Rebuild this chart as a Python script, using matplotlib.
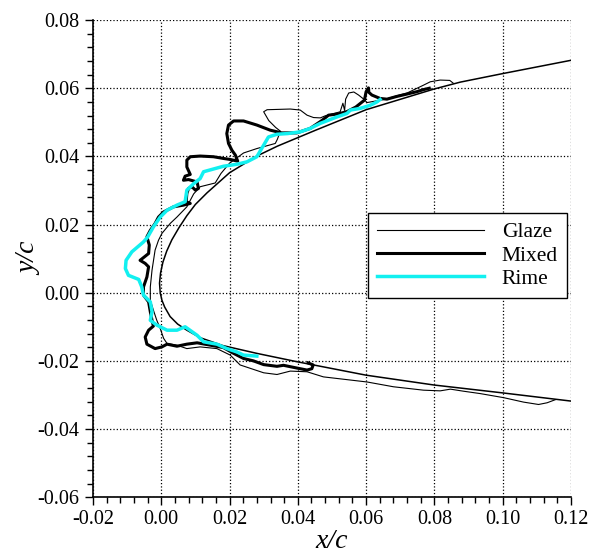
import numpy as np
import matplotlib
matplotlib.use("Agg")
import matplotlib.pyplot as plt
from matplotlib.ticker import MultipleLocator, FormatStrFormatter

plt.rcParams['font.family'] = ['Liberation Serif', 'DejaVu Serif']
plt.rcParams['axes.unicode_minus'] = False

# clean airfoil (upper TE -> nose -> lower TE)
clean_x = [0.120, 0.100, 0.0876, 0.080, 0.060, 0.045, 0.034, 0.028, 0.020, 0.0134, 0.0100,
           0.0075, 0.0052, 0.0031, 0.0016, 0.0005, -0.0002, -0.0005, -0.0003, 0.0002, 0.0010,
           0.0026, 0.0048, 0.0075, 0.0114, 0.018, 0.028, 0.040, 0.060, 0.080, 0.100, 0.120]
clean_y = [0.0682, 0.0643, 0.0618, 0.0598, 0.0537, 0.0476, 0.0430, 0.0401, 0.0352, 0.0293, 0.0259,
           0.0226, 0.0191, 0.0155, 0.0122, 0.0090, 0.0058, 0.0028, 0.0000, -0.0022, -0.0042,
           -0.0070, -0.0092, -0.0110, -0.0132, -0.0155, -0.0178, -0.0203, -0.0242, -0.0271, -0.0294,
           -0.0318]

# glaze ice
glaze_x = [0.0855, 0.0845, 0.0817, 0.0788, 0.0768, 0.0720, 0.0690, 0.0661, 0.0625, 0.0603,
           0.0593, 0.0578, 0.0564, 0.0549, 0.0540, 0.0537, 0.0532, 0.0524, 0.0500, 0.0480,
           0.0466, 0.0446, 0.0427, 0.0407, 0.0378, 0.0310, 0.0300, 0.0315, 0.0335, 0.0349,
           0.0340, 0.0334, 0.0280, 0.0241, 0.0226, 0.0200, 0.0175, 0.0158, 0.0114, 0.0095,
           0.0075, 0.0046, 0.0026, 0.0002, -0.0008, -0.0018, -0.0027, -0.0032, -0.0032, -0.0023,
           -0.0013, -0.0003, 0.0007, 0.0017, 0.0046, 0.0075, 0.0114, 0.0163, 0.0202, 0.0231,
           0.0261, 0.0300, 0.0339, 0.0378, 0.0427, 0.0475, 0.0603, 0.0680, 0.0768, 0.0817,
           0.0847, 0.0885, 0.0934, 0.1003, 0.1061, 0.1105, 0.1130, 0.1154]
glaze_y = [0.0615, 0.0623, 0.0624, 0.0619, 0.0609, 0.0586, 0.0578, 0.0569, 0.0562, 0.0558,
           0.0568, 0.0580, 0.0589, 0.0586, 0.0568, 0.0535, 0.0556, 0.0531, 0.0524, 0.0519,
           0.0513, 0.0514, 0.0521, 0.0536, 0.0539, 0.0537, 0.0531, 0.0505, 0.0485, 0.0474,
           0.0450, 0.0438, 0.0423, 0.0410, 0.0399, 0.0380, 0.0350, 0.0322, 0.0311, 0.0290,
           0.0252, 0.0222, 0.0203, 0.0174, 0.0154, 0.0125, 0.0066, 0.0017, -0.0022, -0.0051,
           -0.0081, -0.0105, -0.0134, -0.0149, -0.0154, -0.0164, -0.0159, -0.0164, -0.0183, -0.0212,
           -0.0222, -0.0235, -0.0240, -0.0230, -0.0232, -0.0247, -0.0262, -0.0276, -0.0286, -0.0288,
           -0.0283, -0.0289, -0.0296, -0.0308, -0.0321, -0.0328, -0.0323, -0.0314]

# mixed ice
mixed_x = [0.0785, 0.0768, 0.0749, 0.0720, 0.0690, 0.0661, 0.0641, 0.0617, 0.0608, 0.0607,
           0.0600, 0.0595, 0.0570, 0.0545, 0.0520, 0.0505, 0.0490, 0.0470, 0.0436, 0.0397,
           0.0353, 0.0319, 0.0280, 0.0241, 0.0212, 0.0197, 0.0192, 0.0197, 0.0207, 0.0217,
           0.0224, 0.0202, 0.0182, 0.0153, 0.0114, 0.0085, 0.0075, 0.0075, 0.0085, 0.0070,
           0.0065, 0.0080, 0.0105, 0.0109, 0.0100, 0.0090, 0.0080, 0.0075, 0.0073, 0.0085,
           0.0065, 0.0036, 0.0007, -0.0008, -0.0018, -0.0032, -0.0042, -0.0035, -0.0037, -0.0062,
           -0.0047, -0.0037, -0.0042, -0.0052, -0.0052, -0.0037, -0.0032, -0.0027, -0.0023, -0.0037,
           -0.0047, -0.0042, -0.0018, 0.0002, 0.0017, 0.0046, 0.0075, 0.0105, 0.0144, 0.0182,
           0.0212, 0.0241, 0.0270, 0.0300, 0.0339, 0.0358, 0.0397, 0.0427, 0.0441, 0.0445,
           0.0430]
mixed_y = [0.0600, 0.0596, 0.0590, 0.0583, 0.0576, 0.0568, 0.0570, 0.0580, 0.0588, 0.0601,
           0.0590, 0.0565, 0.0545, 0.0532, 0.0525, 0.0523, 0.0521, 0.0505, 0.0482, 0.0469,
           0.0469, 0.0477, 0.0492, 0.0504, 0.0504, 0.0492, 0.0467, 0.0438, 0.0418, 0.0404,
           0.0386, 0.0391, 0.0394, 0.0399, 0.0401, 0.0399, 0.0389, 0.0369, 0.0347, 0.0342,
           0.0330, 0.0332, 0.0325, 0.0306, 0.0301, 0.0311, 0.0306, 0.0291, 0.0267, 0.0262,
           0.0257, 0.0252, 0.0237, 0.0222, 0.0203, 0.0183, 0.0164, 0.0140, 0.0115, 0.0095,
           0.0086, 0.0076, 0.0046, 0.0017, -0.0007, -0.0027, -0.0056, -0.0081, -0.0098, -0.0110,
           -0.0130, -0.0151, -0.0164, -0.0159, -0.0151, -0.0157, -0.0151, -0.0147, -0.0154, -0.0161,
           -0.0178, -0.0193, -0.0200, -0.0211, -0.0216, -0.0213, -0.0221, -0.0227, -0.0223, -0.0212,
           -0.0206]

# rime ice
rime_x = [0.0641, 0.0632, 0.0612, 0.0583, 0.0554, 0.0544, 0.0515, 0.0466, 0.0436, 0.0407,
          0.0370, 0.0339, 0.0314, 0.0300, 0.0280, 0.0251, 0.0222, 0.0182, 0.0124, 0.0114,
          0.0095, 0.0075, 0.0070, 0.0046, 0.0017, -0.0003, -0.0023, -0.0040, -0.0052, -0.0086,
          -0.0103, -0.0105, -0.0096, -0.0066, -0.0057, -0.0052, -0.0032, -0.0027, -0.0032, -0.0013,
          0.0017, 0.0046, 0.0070, 0.0105, 0.0124, 0.0163, 0.0192, 0.0222, 0.0241, 0.0280]
rime_y = [0.0567, 0.0560, 0.0550, 0.0541, 0.0536, 0.0526, 0.0516, 0.0497, 0.0482, 0.0472,
          0.0467, 0.0465, 0.0457, 0.0433, 0.0399, 0.0384, 0.0377, 0.0371, 0.0355, 0.0335,
          0.0320, 0.0301, 0.0267, 0.0257, 0.0242, 0.0222, 0.0193, 0.0163, 0.0149, 0.0120,
          0.0095, 0.0071, 0.0051, 0.0039, 0.0017, -0.0007, -0.0027, -0.0056, -0.0081, -0.0095,
          -0.0110, -0.0110, -0.0100, -0.0125, -0.0144, -0.0151, -0.0164, -0.0174, -0.0183, -0.0186]

fig = plt.figure(figsize=(5.92, 5.58), dpi=100)
ax = fig.add_axes([0.157, 0.109, 0.8075, 0.855])

ax.plot(clean_x, clean_y, color='black', lw=1.1)
ax.plot(glaze_x, glaze_y, color='black', lw=0.8, label='Glaze')
ax.plot(mixed_x, mixed_y, color='black', lw=2.2, label='Mixed')
ax.plot(rime_x, rime_y, color='#12F0F0', lw=2.5, label='Rime')

ax.set_xlim(-0.02, 0.12)
ax.set_ylim(-0.06, 0.08)
ax.xaxis.set_major_locator(MultipleLocator(0.02))
ax.yaxis.set_major_locator(MultipleLocator(0.02))
ax.xaxis.set_minor_locator(MultipleLocator(0.004))
ax.yaxis.set_minor_locator(MultipleLocator(0.004))
ax.xaxis.set_major_formatter(FormatStrFormatter('%.2f'))
ax.yaxis.set_major_formatter(FormatStrFormatter('%.2f'))
ax.tick_params(which='major', direction='out', length=6, width=1, labelsize=14.5)
ax.tick_params(which='minor', direction='out', length=4, width=1)
ax.grid(True, which='major', linestyle=':', color='black', lw=0.9)

for s in ['top', 'right']:
    ax.spines[s].set_visible(False)
for s in ['left', 'bottom']:
    ax.spines[s].set_linewidth(1.2)

ax.set_xlabel('x/c', fontsize=20, fontstyle='italic', labelpad=0)
ax.set_ylabel('y/c', fontsize=20, fontstyle='italic', labelpad=-3)

leg = ax.legend(loc='upper left', bbox_to_anchor=(0.575, 0.595), fontsize=15.5,
                handlelength=5, handletextpad=0.8, labelspacing=0.15, borderpad=0.42,
                borderaxespad=0, fancybox=False, framealpha=1, edgecolor='black')
leg.get_frame().set_linewidth(1.0)

fig.savefig('out.png', dpi=100)
